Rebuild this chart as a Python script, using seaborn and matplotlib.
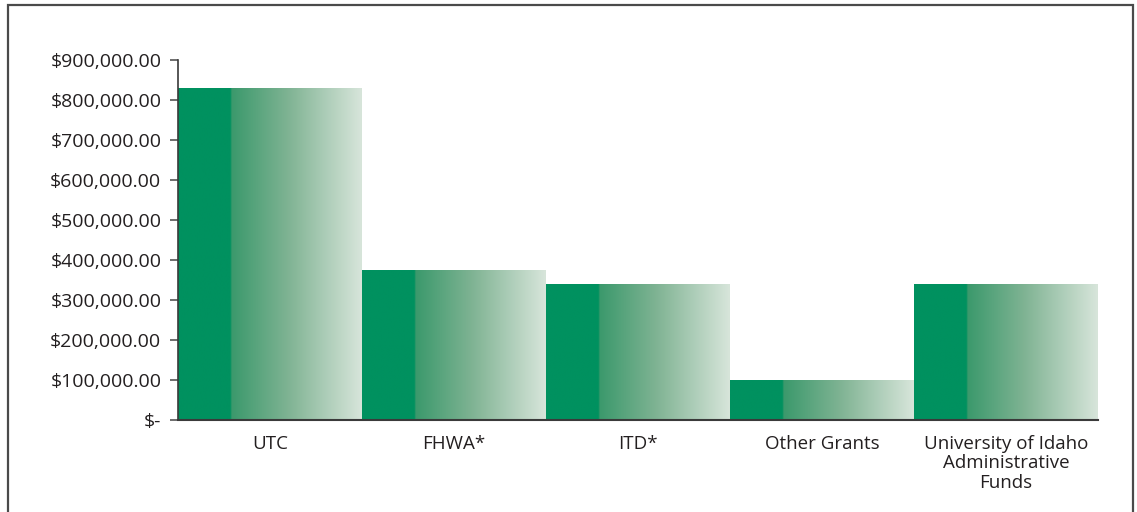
import numpy as np
import pandas as pd
import matplotlib
matplotlib.use("Agg")
import matplotlib.pyplot as plt
from matplotlib.colors import LinearSegmentedColormap
from matplotlib.patches import Rectangle
from matplotlib.ticker import FuncFormatter
import seaborn as sns

categories = ["UTC", "FHWA*", "ITD*", "Other Grants",
              "University of Idaho\nAdministrative\nFunds"]
amounts = [829000, 374000, 339000, 98000, 339000]
yticks = [0, 100000, 200000, 300000, 400000, 500000, 600000, 700000, 800000, 900000]

sns.set_theme(style="white")
plt.rcParams["font.family"] = ["Open Sans", "DejaVu Sans"]
TEXT = "#231f20"

fig = plt.figure(figsize=(11.37, 5.12), dpi=100)
ax = fig.add_axes([178 / 1137, 1 - 419.5 / 512, (1098 - 178) / 1137, (419.5 - 60) / 512])

df = pd.DataFrame({"category": categories, "amount": amounts})
sns.barplot(data=df, x="category", y="amount", color="#00915f", width=1.0,
            saturation=1, ax=ax, edgecolor="none", linewidth=0)

cmap = LinearSegmentedColormap.from_list(
    "grad",
    [(0.0, "#00915f"), (0.285, "#00915f"), (0.29, "#3b996c"),
     (0.6, "#7fb393"), (1.0, "#d7e5da")])
grad = np.linspace(0, 1, 400).reshape(1, -1)
for p in ax.patches:
    x0, y0 = p.get_x(), p.get_y()
    w, h = p.get_width(), p.get_height()
    im = ax.imshow(grad, cmap=cmap, aspect="auto", extent=(x0, x0 + w, y0, y0 + h),
                   interpolation="bilinear", zorder=3)
    im.set_clip_path(p)

ax.set_xlim(-0.5, len(categories) - 0.5)
ax.set_ylim(0, 900000)
ax.set_yticks(yticks)


def fmt(v, pos):
    if v == 0:
        return "$-"
    return "${:,.2f}".format(v)


ax.yaxis.set_major_formatter(FuncFormatter(fmt))
ax.set_xlabel("")
ax.set_ylabel("")
for s in ["top", "right"]:
    ax.spines[s].set_visible(False)
ax.spines["left"].set_color("#3a3a3a")
ax.spines["bottom"].set_color("#3a3a3a")
ax.spines["left"].set_linewidth(1.2)
ax.spines["bottom"].set_linewidth(1.5)
ax.spines["left"].set_zorder(5)
ax.spines["bottom"].set_zorder(5)
ax.tick_params(axis="y", which="major", left=True, length=6, width=1.2,
               color="#555555", pad=6, labelsize=14, labelcolor=TEXT)
ax.tick_params(axis="x", which="major", bottom=False, length=0, pad=11,
               labelsize=13.5, labelcolor=TEXT)
for lbl in ax.get_xticklabels():
    lbl.set_linespacing(1.1)
    lbl.set_verticalalignment("top")

fig.patches.append(Rectangle((8 / 1137, -0.05), (1133 - 8) / 1137, 1.05 - 5 / 512,
                             transform=fig.transFigure, fill=False,
                             edgecolor="#4a4a4a", linewidth=1.6, clip_on=False))

fig.savefig("out.png", dpi=100, facecolor="white")
